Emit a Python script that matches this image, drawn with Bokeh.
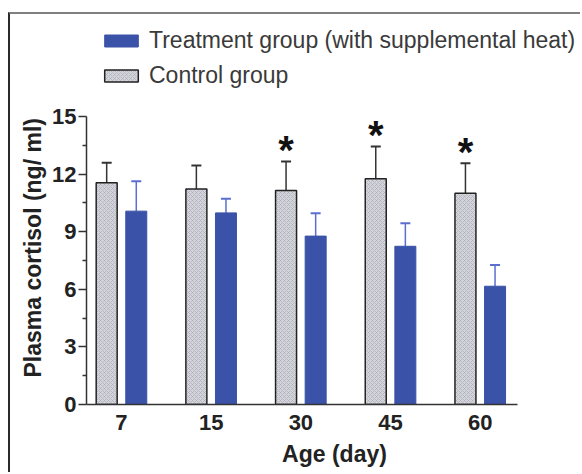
from bokeh.plotting import figure
from bokeh.models import (ColumnDataSource, FixedTicker, Whisker, TeeHead, Legend,
                          LegendItem, Range1d, Title)
from bokeh.core.properties import value
from bokeh.embed import file_html
from bokeh.resources import INLINE

ages = ["7", "15", "30", "45", "60"]
control_mean = [11.55, 11.23, 11.15, 11.76, 11.0]
control_sd = [1.04, 1.22, 1.51, 1.68, 1.57]
treat_mean = [10.07, 9.98, 8.77, 8.24, 6.16]
treat_sd = [1.56, 0.73, 1.19, 1.2, 1.11]
significant = [False, False, True, True, True]

idx = list(range(len(ages)))
off = 0.165
bw = 0.234
ctrl_x = [i - off for i in idx]
trt_x = [i + off for i in idx]

ctrl_src = ColumnDataSource(dict(x=ctrl_x, top=control_mean,
                                 upper=[m + s for m, s in zip(control_mean, control_sd)]))
trt_src = ColumnDataSource(dict(x=trt_x, top=treat_mean,
                                upper=[m + s for m, s in zip(treat_mean, treat_sd)]))
star_src = ColumnDataSource(dict(
    x=[x for x, s in zip(ctrl_x, significant) if s],
    y=[m + s + 0.6 for m, s, sig in zip(control_mean, control_sd, significant) if sig],
    t=["*" for s in significant if s]))

p = figure(width=572, height=460, output_backend="svg", toolbar_location=None,
           x_range=Range1d(-0.39, 5.14), y_range=Range1d(0, 20),
           min_border_left=76, min_border_right=0, min_border_top=6, min_border_bottom=70)
p.margin = (12, 0, 0, 8)
p.styles = {"border-left": "2px solid #2a2a2a", "border-top": "2px solid #808080"}
p.outline_line_color = None
p.grid.grid_line_color = None
p.background_fill_color = "white"
p.border_fill_color = "white"

TREAT = "#3a52a8"
CTRL_FILL = "#d4d4dc"

wc = Whisker(source=ctrl_src, base="x", upper="upper", lower="top", dimension="height",
             line_color="#333333", line_width=1.5,
             upper_head=TeeHead(size=10, line_color="#333333", line_width=2), lower_head=None)
wt = Whisker(source=trt_src, base="x", upper="upper", lower="top", dimension="height",
             line_color="#5a6fd0", line_width=1.5,
             upper_head=TeeHead(size=10, line_color="#5a6fd0", line_width=2), lower_head=None)
p.add_layout(wc)
p.add_layout(wt)

rc = p.vbar(x="x", top="top", bottom=0, width=bw, source=ctrl_src,
            fill_color=CTRL_FILL, line_color="#222222", line_width=1.5,
            hatch_pattern="diagonal_cross", hatch_color="#a8a8b0", hatch_scale=4,
            hatch_weight=0.6)
rt = p.vbar(x="x", top="top", bottom=0, width=bw, source=trt_src,
            fill_color=TREAT, line_color=TREAT, line_width=1)

p.text(x="x", y="y", text="t", source=star_src, text_font=value("Liberation Sans"),
       text_font_style="bold", text_font_size="40px", text_align="center",
       text_baseline="middle", text_color="#111111")

legend = Legend(items=[LegendItem(label="Treatment group (with supplemental heat)", renderers=[rt]),
                       LegendItem(label="Control group", renderers=[rc])],
                location=(14, 315), orientation="vertical",
                glyph_width=42, glyph_height=15, label_height=26, spacing=8,
                label_standoff=7, padding=0, margin=0,
                border_line_color=None, background_fill_alpha=0,
                label_text_font="Liberation Sans", label_text_font_size="23px",
                label_text_color="#3a3a3a")
p.add_layout(legend)

# axes
xa = p.xaxis[0]
xa.ticker = FixedTicker(ticks=idx)
xa.major_label_overrides = {i: a for i, a in zip(idx, ages)}
xa.bounds = (-0.39, 4.41)
xa.major_tick_out = 0
xa.major_tick_in = 0
xa.minor_tick_out = 0
xa.axis_line_color = "#333333"
xa.axis_line_width = 1.5
xa.major_label_text_font = "Liberation Sans"
xa.major_label_text_font_style = "bold"
xa.major_label_text_font_size = "22px"
xa.major_label_text_color = "#222222"
xa.major_label_standoff = 10
xa.axis_label = "Age (day)"
xa.axis_label_text_font = "Liberation Sans"
xa.axis_label_text_font_style = "bold"
xa.axis_label_text_font_size = "23px"
xa.axis_label_text_color = "#222222"
xa.axis_label_standoff = 8

ya = p.yaxis[0]
ya.ticker = FixedTicker(ticks=[0, 3, 6, 9, 12, 15], minor_ticks=[1.5, 4.5, 7.5, 10.5, 13.5])
ya.bounds = (0, 15)
ya.major_tick_out = 8
ya.major_tick_in = 0
ya.minor_tick_out = 4
ya.minor_tick_in = 0
ya.axis_line_color = "#333333"
ya.axis_line_width = 1.5
ya.major_tick_line_width = 1.5
ya.minor_tick_line_width = 1.5
ya.major_tick_line_color = "#333333"
ya.minor_tick_line_color = "#333333"
ya.major_label_text_font = "Liberation Sans"
ya.major_label_text_font_style = "bold"
ya.major_label_text_font_size = "22px"
ya.major_label_text_color = "#222222"
ya.major_label_standoff = 2

ylab = Title(text="Plasma cortisol (ng/ ml)", align="left", offset=27, standoff=8,
             text_font="Liberation Sans", text_font_style="bold", text_font_size="23px",
             text_color="#222222")
p.add_layout(ylab, "left")

open("out.html", "w").write(file_html(p, INLINE))
